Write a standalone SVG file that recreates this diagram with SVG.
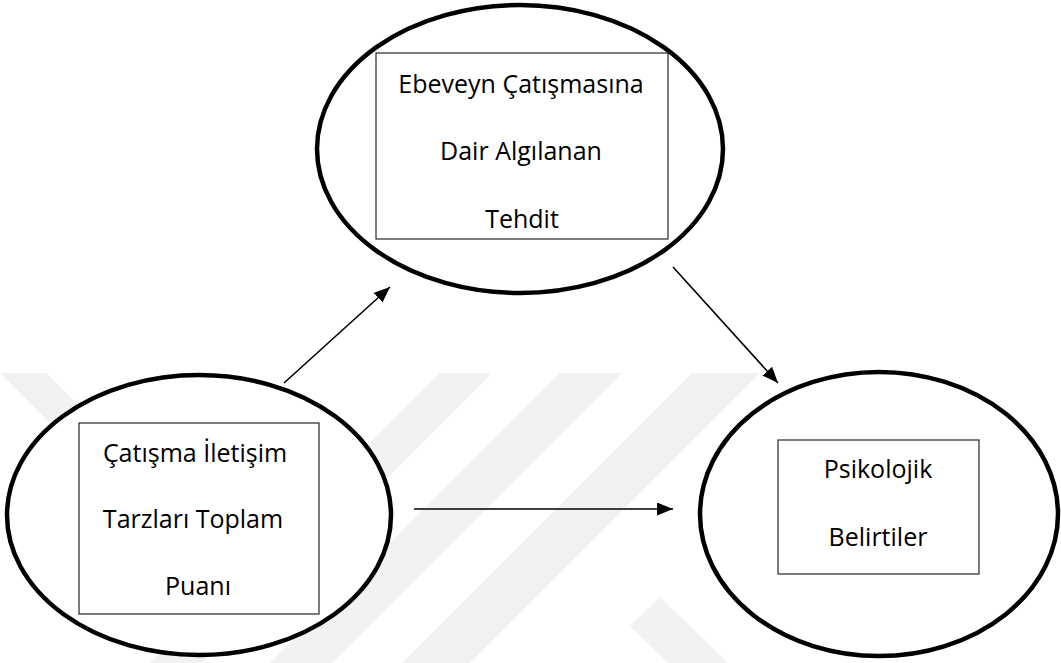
<svg xmlns="http://www.w3.org/2000/svg" width="1061" height="663" viewBox="0 0 1061 663">
  <style>
    .ell { fill: #ffffff; stroke: #000000; stroke-width: 4.5; }
    .box { fill: #ffffff; stroke: #262626; stroke-width: 1.2; }
    .lbl { font-family: "Open Sans", "Noto Sans", "Liberation Sans", sans-serif; font-size: 25px; fill: #000000; text-anchor: middle; }
    .wm { fill: #f2f2f2; stroke: none; }
    .conn { stroke: #000000; stroke-width: 1.6; fill: none; marker-end: url(#arrow); }
  </style>
  <defs>
    <marker id="arrow" markerUnits="userSpaceOnUse" markerWidth="17" markerHeight="14" refX="16" refY="6.5" orient="auto">
      <path d="M0,0 L16,6.5 L0,13 z" fill="#000000"/>
    </marker>
  </defs>
  <rect width="1061" height="663" fill="#ffffff"/>
  <g id="watermark">
    <polygon class="wm" points="0,373 46,373 246,573 200,573 0,373"/>
    <polygon class="wm" points="440,373 492,373 202,663 150,663"/>
    <polygon class="wm" points="560,373 622,373 332,663 270,663"/>
    <polygon class="wm" points="692,373 760,373 470,663 402,663"/>
    <polygon class="wm" points="630,626 660,597 728,663 668,663"/>
  </g>
  <g id="connectors">
    <line class="conn" x1="284" y1="383" x2="390" y2="287"/>
    <line class="conn" x1="673" y1="267" x2="778" y2="383"/>
    <line class="conn" x1="414" y1="509" x2="673" y2="509"/>
  </g>
  <g id="node-threat">
    <ellipse class="ell" cx="520" cy="149" rx="203" ry="144"/>
    <rect class="box" x="376" y="53" width="292" height="186"/>
    <text class="lbl" x="521" y="93">Ebeveyn Çatışmasına</text>
    <text class="lbl" x="521" y="160">Dair Algılanan</text>
    <text class="lbl" x="522" y="228">Tehdit</text>
  </g>
  <g id="node-conflict">
    <ellipse class="ell" cx="199" cy="515" rx="192" ry="140"/>
    <rect class="box" x="79" y="423" width="240" height="191"/>
    <text class="lbl" x="195" y="462">Çatışma İletişim</text>
    <text class="lbl" x="193" y="528">Tarzları Toplam</text>
    <text class="lbl" x="198" y="595">Puanı</text>
  </g>
  <g id="node-symptoms">
    <ellipse class="ell" cx="879" cy="514" rx="179" ry="142"/>
    <rect class="box" x="778" y="440" width="201" height="134"/>
    <text class="lbl" x="878" y="478">Psikolojik</text>
    <text class="lbl" x="878" y="546">Belirtiler</text>
  </g>
</svg>
